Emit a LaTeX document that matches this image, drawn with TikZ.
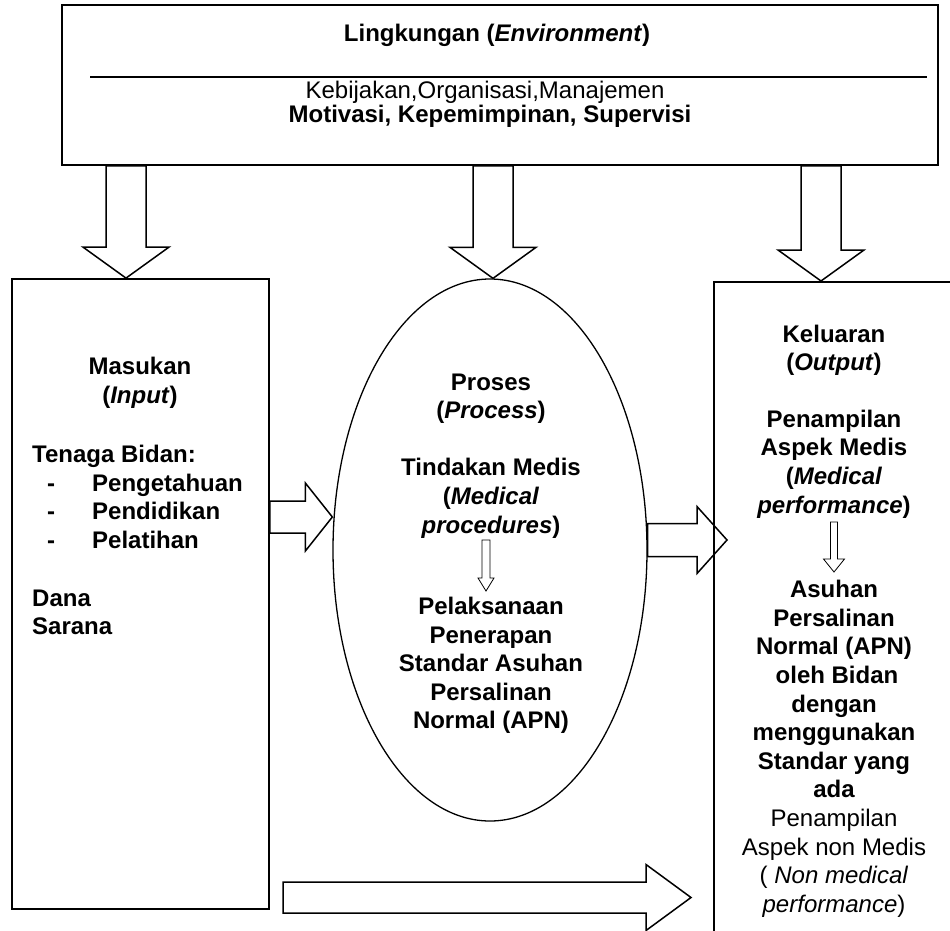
\documentclass[tikz,border=0pt]{standalone}
\usepackage{fontspec}
\setmainfont{Liberation Sans}
\usetikzlibrary{calc,shapes.geometric}

% block arrow: [style] {start} {tip} {shaft half width} {head half width} {head length}
\newcommand{\fatarrow}[6][]{%
  \coordinate (fa-h) at ($(#3)!#6!(#2)$);
  \draw[fat,#1] ($(#2)!#4!90:(#3)$) -- ($(fa-h)!#4!-90:(#2)$)
    -- ($(fa-h)!#5!-90:(#2)$) -- (#3) -- ($(fa-h)!#5!90:(#2)$)
    -- ($(fa-h)!#4!90:(#2)$) -- ($(#2)!#4!-90:(#3)$) -- cycle;
}

\begin{document}
\begin{tikzpicture}[x=1pt,y=-1pt,
  box/.style={draw, line width=1.8pt, inner sep=0pt},
  fat/.style={line width=1.5pt, line join=miter},
  lbl/.style={font=\fontsize{24pt}{29pt}\selectfont, inner sep=0pt, anchor=base}]
\useasboundingbox (0,0) rectangle (950,930);
\fill[white] (0,0) rectangle (950,930);
\clip (0,0) rectangle (950,930);

% boxes
\node[box, minimum width=876pt, minimum height=160pt] (env) at (500,85) {};
\draw[line width=1.5pt] (90,77) -- (927,77);
\node[box, minimum width=257pt, minimum height=630pt] (inbox) at (140.5,594) {};
\node[draw, ellipse, line width=1.3pt, inner sep=0pt,
      minimum width=314pt, minimum height=542pt] (proc) at (490,550) {};
\node[box, anchor=north west, minimum width=300pt, minimum height=700pt] (outbox) at (713,281) {};

% environment text
\node[lbl] (envtitle) at (497,41) {\textbf{Lingkungan (\textit{Environment})}};
\node[lbl] (envl1) at (485,98) {Kebijakan,Organisasi,Manajemen};
\node[lbl] (envl2) at (490,122) {\textbf{Motivasi, Kepemimpinan, Supervisi}};

% input text
\node[lbl] (in1) at (140,374) {\textbf{Masukan}};
\node[lbl] (in2) at (140,403) {\textbf{(\textit{Input})}};
\node[lbl, anchor=base west] (in3) at (32,462) {\textbf{Tenaga Bidan:}};
\node[lbl, anchor=base west] (in4) at (47,491) {\textbf{\makebox[45pt][l]{-}Pengetahuan}};
\node[lbl, anchor=base west] (in5) at (47,519) {\textbf{\makebox[45pt][l]{-}Pendidikan}};
\node[lbl, anchor=base west] (in6) at (47,548) {\textbf{\makebox[45pt][l]{-}Pelatihan}};
\node[lbl, anchor=base west] (in7) at (32,606) {\textbf{Dana}};
\node[lbl, anchor=base west] (in8) at (32,634) {\textbf{Sarana}};

% process text
\node[lbl] (pr1) at (491,390) {\textbf{Proses}};
\node[lbl] (pr2) at (491,418) {\textbf{(\textit{Process})}};
\node[lbl] (pr3) at (491,475) {\textbf{Tindakan Medis}};
\node[lbl] (pr4) at (491,504) {\textbf{(\textit{Medical}}};
\node[lbl] (pr5) at (491,533) {\textbf{\textit{procedures})}};
\node[lbl] (pr6) at (491,614) {\textbf{Pelaksanaan}};
\node[lbl] (pr7) at (491,643) {\textbf{Penerapan}};
\node[lbl] (pr8) at (491,671) {\textbf{Standar Asuhan}};
\node[lbl] (pr9) at (491,700) {\textbf{Persalinan}};
\node[lbl] (pr10) at (491,728) {\textbf{Normal (APN)}};

% output text
\node[lbl] (out1) at (834,342) {\textbf{Keluaran}};
\node[lbl] (out2) at (834,370) {\textbf{(\textit{Output})}};
\node[lbl] (out3) at (834,427) {\textbf{Penampilan}};
\node[lbl] (out4) at (834,455) {\textbf{Aspek Medis}};
\node[lbl] (out5) at (834,484) {\textbf{(\textit{Medical}}};
\node[lbl] (out6) at (834,513) {\textbf{\textit{performance})}};
\node[lbl] (out7) at (834,597) {\textbf{Asuhan}};
\node[lbl] (out8) at (834,626) {\textbf{Persalinan}};
\node[lbl] (out9) at (834,654) {\textbf{Normal (APN)}};
\node[lbl] (out10) at (837,683) {\textbf{oleh Bidan}};
\node[lbl] (out11) at (834,712) {\textbf{dengan}};
\node[lbl] (out12) at (834,740) {\textbf{menggunakan}};
\node[lbl] (out13) at (834,769) {\textbf{Standar yang}};
\node[lbl] (out14) at (834,797) {\textbf{ada}};
\node[lbl] (out15) at (834,826) {Penampilan};
\node[lbl] (out16) at (834,855) {Aspek non Medis};
\node[lbl] (out17) at (834,883) {( \textit{Non medical}};
\node[lbl] (out18) at (834,912) {\textit{performance})};

% arrow ends
\coordinate (c1) at (126,0);
\coordinate (c2) at (493,0);
\coordinate (c3) at (821,0);
\coordinate (e1) at (c1 |- env.south);
\coordinate (t1) at (c1 |- inbox.north);
\coordinate (e2) at (c2 |- env.south);
\coordinate (t2) at (c2 |- proc.north);
\coordinate (e3) at (c3 |- env.south);
\coordinate (t3) at (c3 |- outbox.north);
\coordinate (c4) at (0,517);
\coordinate (e4) at (c4 -| inbox.east);
\coordinate (t4) at (c4 -| proc.west);
\coordinate (t5) at (727,540);
\coordinate (e5) at (t5 -| proc.east);
\coordinate (e6) at (283,897.5);
\coordinate (t6) at (691,897.5);
\coordinate (e7) at (486,540);
\coordinate (t7) at (486,591);
\coordinate (e8) at (834,522);
\coordinate (t8) at (834,572);

% block arrows
\fatarrow{e1}{t1}{20pt}{43pt}{31pt}
\fatarrow{e2}{t2}{20pt}{43pt}{31pt}
\fatarrow{e3}{t3}{20pt}{43pt}{31pt}
\fatarrow{e4}{t4}{16pt}{34pt}{27pt}
\fatarrow{e5}{t5}{16.5pt}{33.5pt}{30pt}
\fatarrow{e6}{t6}{15.5pt}{33pt}{45pt}
\fatarrow[line width=0.8pt]{e7}{t7}{4pt}{8pt}{13pt}
\fatarrow[line width=0.8pt]{e8}{t8}{3.5pt}{10.5pt}{13pt}
\end{tikzpicture}
\end{document}
